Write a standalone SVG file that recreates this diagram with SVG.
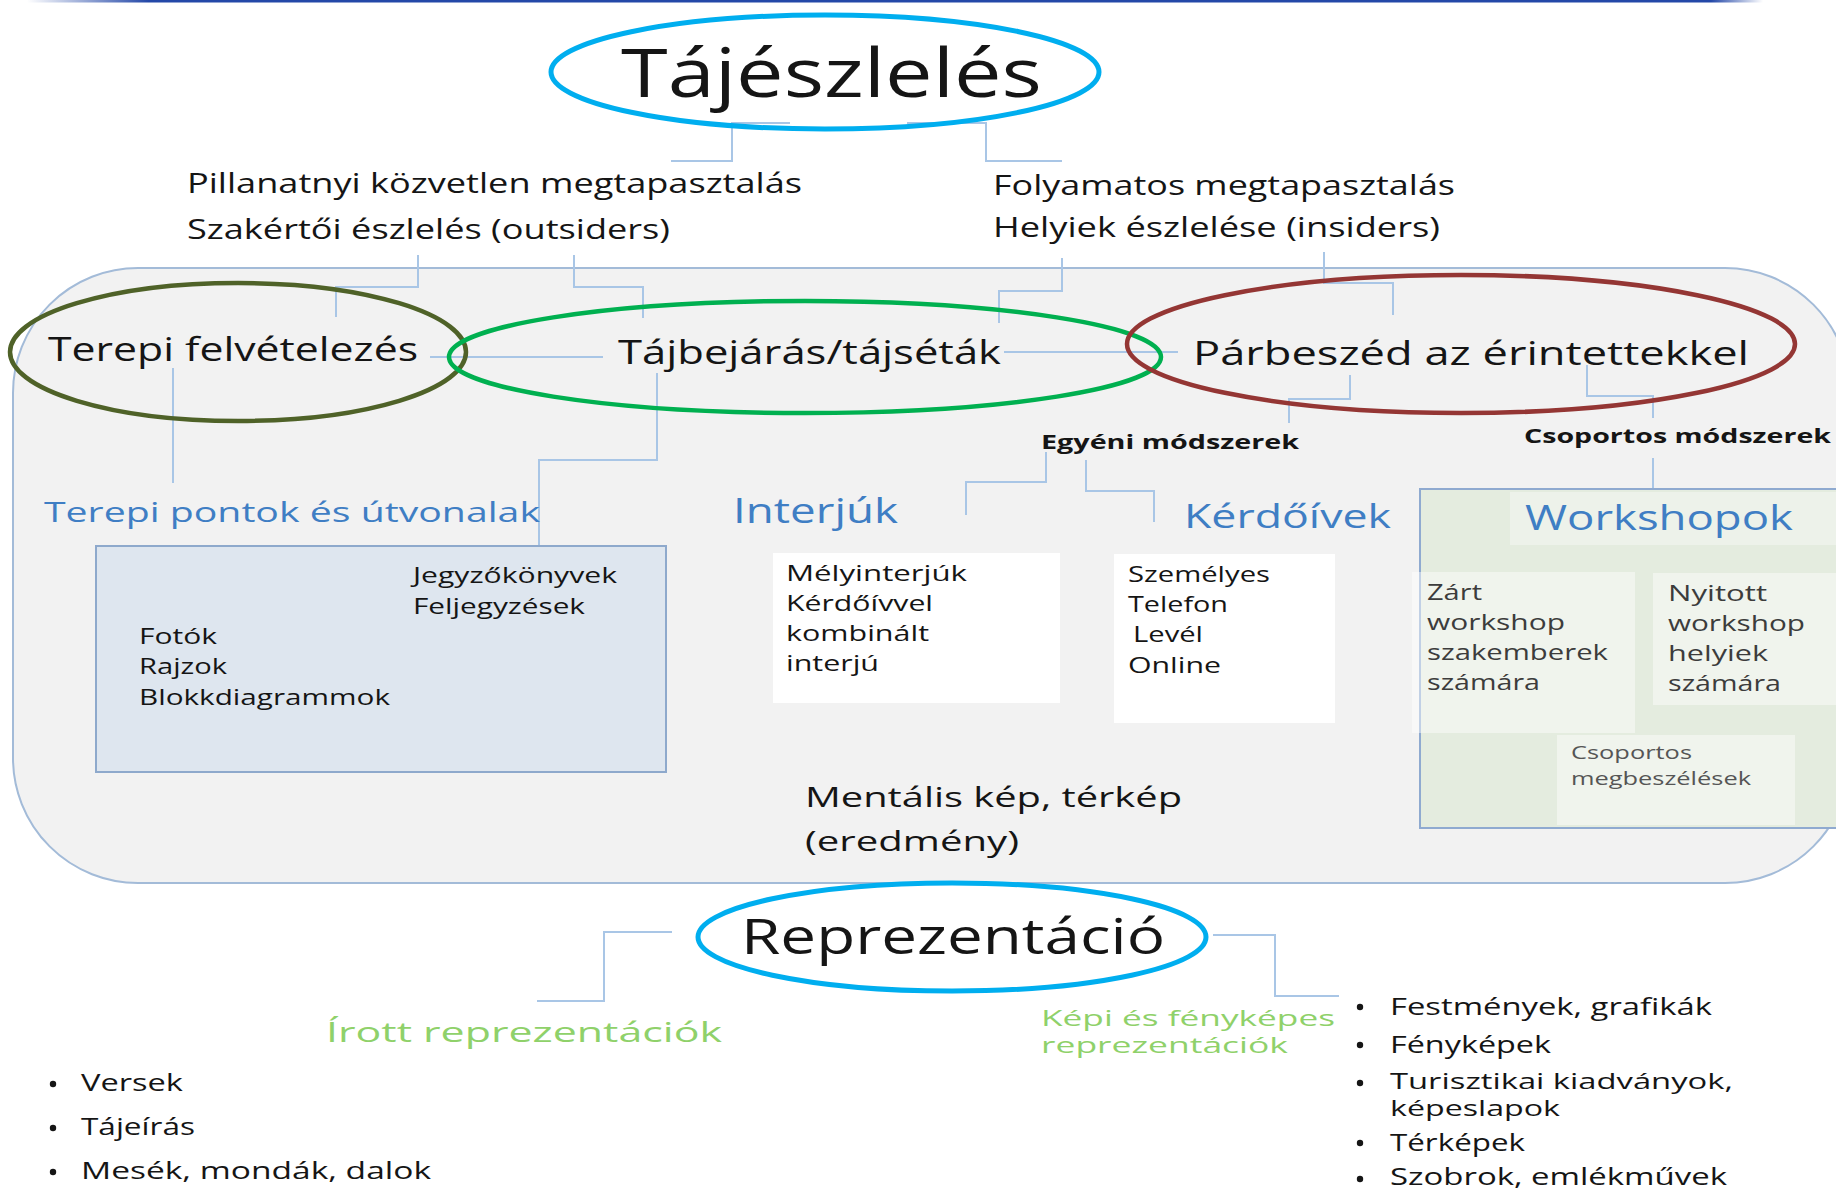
<svg xmlns="http://www.w3.org/2000/svg" width="1836" height="1191" viewBox="0 0 1836 1191">
<defs>
<linearGradient id="bar" x1="0" y1="0" x2="1" y2="0">
<stop offset="0" stop-color="#2448A8" stop-opacity="0"/>
<stop offset="0.07" stop-color="#2448A8" stop-opacity="1"/>
<stop offset="0.97" stop-color="#2448A8" stop-opacity="1"/>
<stop offset="1" stop-color="#2448A8" stop-opacity="0"/>
</linearGradient>
<style>
text{font-family:'Open Sans','Liberation Sans',sans-serif;fill:#151515}
.conn path{fill:none;stroke:#A9C6E6;stroke-width:2}
.blue{fill:#3F7EC4}
.green{fill:#8FD16A}
.gray{fill:#3c3c3c}
.lgray{fill:#555555}
.b{font-weight:bold}
.ell{fill:none}
</style>
</defs>
<rect x="0" y="0" width="1836" height="1191" fill="#ffffff"/>
<rect x="27" y="0" width="1736" height="2.5" fill="url(#bar)"/>

<g id="container">
<rect x="13" y="268" width="1837" height="615" rx="125" ry="125" fill="#F2F2F2" stroke="#A3BBD8" stroke-width="2"/>
</g>

<g class="conn" id="connectors">
<path d="M790,123 H732 V161 H671"/>
<path d="M907,123 H986 V161 H1062"/>
<path d="M418,255 V287 H336 V317"/>
<path d="M574,255 V287 H643 V318"/>
<path d="M430,357 H603"/>
<path d="M657,373 V460 H539 V545"/>
<path d="M173,368 V483"/>
<path d="M1062,258 V291 H999 V323"/>
<path d="M1324,252 V283 H1393 V315"/>
<path d="M1004,352 H1178"/>
<path d="M1350,375 V399 H1289 V423"/>
<path d="M1587,365 V396 H1653 V418"/>
<path d="M1653,458 V490"/>
<path d="M1046,452 V482 H966 V515"/>
<path d="M1086,460 V491 H1154 V522"/>
<path d="M672,932 H604 V1001 H537"/>
<path d="M1213,935 H1275 V996 H1339"/>
</g>

<g id="tajeszleles">
<ellipse class="ell" cx="825" cy="72" rx="274" ry="57" stroke="#00AEEF" stroke-width="5"/>
<text x="621" y="97" font-size="68" textLength="421" lengthAdjust="spacingAndGlyphs">Tájészlelés</text>
</g>

<g id="pillanatnyi">
<text x="187" y="193" font-size="28" textLength="615" lengthAdjust="spacingAndGlyphs">Pillanatnyi közvetlen megtapasztalás</text>
<text x="187" y="239" font-size="28" textLength="483" lengthAdjust="spacingAndGlyphs">Szakértői észlelés (outsiders)</text>
</g>
<g id="folyamatos">
<text x="993" y="195" font-size="28" textLength="462" lengthAdjust="spacingAndGlyphs">Folyamatos megtapasztalás</text>
<text x="993" y="237" font-size="28" textLength="447" lengthAdjust="spacingAndGlyphs">Helyiek észlelése (insiders)</text>
</g>

<g id="terepi">
<ellipse class="ell" cx="238" cy="352" rx="228" ry="69" stroke="#4F6228" stroke-width="4.5"/>
<text x="48" y="361" font-size="32" textLength="370" lengthAdjust="spacingAndGlyphs">Terepi felvételezés</text>
</g>
<g id="tajbejaras">
<ellipse class="ell" cx="805" cy="357" rx="356" ry="56" stroke="#00B050" stroke-width="4.5"/>
<text x="618" y="364" font-size="32" textLength="383" lengthAdjust="spacingAndGlyphs">Tájbejárás/tájséták</text>
</g>
<g id="parbeszed">
<ellipse class="ell" cx="1461" cy="344" rx="334" ry="69" stroke="#943634" stroke-width="4.5"/>
<text x="1193" y="365" font-size="32" textLength="556" lengthAdjust="spacingAndGlyphs">Párbeszéd az érintettekkel</text>
</g>

<g id="egyeni">
<text class="b" x="1041" y="449" font-size="20" textLength="258" lengthAdjust="spacingAndGlyphs">Egyéni módszerek</text>
</g>
<g id="csoportos">
<text class="b" x="1524" y="443" font-size="20" textLength="307" lengthAdjust="spacingAndGlyphs">Csoportos módszerek</text>
</g>

<g id="terepi-pontok">
<text class="blue" x="44" y="522" font-size="28" textLength="496" lengthAdjust="spacingAndGlyphs">Terepi pontok és útvonalak</text>
<rect x="96" y="546" width="570" height="226" fill="#DEE6EF" stroke="#8EA9CC" stroke-width="2"/>
<text x="413" y="583" font-size="21" textLength="204" lengthAdjust="spacingAndGlyphs">Jegyzőkönyvek</text>
<text x="413" y="614" font-size="21" textLength="172" lengthAdjust="spacingAndGlyphs">Feljegyzések</text>
<text x="139" y="644" font-size="21" textLength="78" lengthAdjust="spacingAndGlyphs">Fotók</text>
<text x="139" y="674" font-size="21" textLength="88" lengthAdjust="spacingAndGlyphs">Rajzok</text>
<text x="139" y="705" font-size="21" textLength="251" lengthAdjust="spacingAndGlyphs">Blokkdiagrammok</text>
</g>

<g id="interjuk">
<text class="blue" x="733" y="523" font-size="34" textLength="165" lengthAdjust="spacingAndGlyphs">Interjúk</text>
<rect x="773" y="553" width="287" height="150" fill="#ffffff"/>
<text x="786" y="581" font-size="21" textLength="181" lengthAdjust="spacingAndGlyphs">Mélyinterjúk</text>
<text x="786" y="611" font-size="21" textLength="147" lengthAdjust="spacingAndGlyphs">Kérdőívvel</text>
<text x="786" y="641" font-size="21" textLength="143" lengthAdjust="spacingAndGlyphs">kombinált</text>
<text x="786" y="671" font-size="21" textLength="93" lengthAdjust="spacingAndGlyphs">interjú</text>
</g>

<g id="kerdoivek">
<text class="blue" x="1184" y="528" font-size="33" textLength="207" lengthAdjust="spacingAndGlyphs">Kérdőívek</text>
<rect x="1114" y="554" width="221" height="169" fill="#ffffff"/>
<text x="1128" y="582" font-size="21" textLength="142" lengthAdjust="spacingAndGlyphs">Személyes</text>
<text x="1128" y="612" font-size="21" textLength="100" lengthAdjust="spacingAndGlyphs">Telefon</text>
<text x="1133" y="642" font-size="21" textLength="70" lengthAdjust="spacingAndGlyphs">Levél</text>
<text x="1128" y="673" font-size="21" textLength="93" lengthAdjust="spacingAndGlyphs">Online</text>
</g>

<g id="workshopok">
<rect x="1420" y="489" width="430" height="339" fill="#E4ECDF" stroke="#8FAAD0" stroke-width="2"/>
<rect x="1510" y="492" width="326" height="53" fill="#ffffff" fill-opacity="0.35"/>
<rect x="1412" y="572" width="223" height="161" fill="#ffffff" fill-opacity="0.45"/>
<rect x="1653" y="573" width="183" height="132" fill="#ffffff" fill-opacity="0.45"/>
<rect x="1557" y="735" width="238" height="90" fill="#ffffff" fill-opacity="0.45"/>
<text class="blue" x="1525" y="530" font-size="34" textLength="268" lengthAdjust="spacingAndGlyphs">Workshopok</text>
<text class="gray" x="1427" y="600" font-size="21" textLength="55" lengthAdjust="spacingAndGlyphs">Zárt</text>
<text class="gray" x="1427" y="630" font-size="21" textLength="138" lengthAdjust="spacingAndGlyphs">workshop</text>
<text class="gray" x="1427" y="660" font-size="21" textLength="181" lengthAdjust="spacingAndGlyphs">szakemberek</text>
<text class="gray" x="1427" y="690" font-size="21" textLength="113" lengthAdjust="spacingAndGlyphs">számára</text>
<text class="gray" x="1668" y="601" font-size="21" textLength="99" lengthAdjust="spacingAndGlyphs">Nyitott</text>
<text class="gray" x="1668" y="631" font-size="21" textLength="137" lengthAdjust="spacingAndGlyphs">workshop</text>
<text class="gray" x="1668" y="661" font-size="21" textLength="100" lengthAdjust="spacingAndGlyphs">helyiek</text>
<text class="gray" x="1668" y="691" font-size="21" textLength="113" lengthAdjust="spacingAndGlyphs">számára</text>
<text class="lgray" x="1571" y="759" font-size="18" textLength="121" lengthAdjust="spacingAndGlyphs">Csoportos</text>
<text class="lgray" x="1571" y="785" font-size="18" textLength="180" lengthAdjust="spacingAndGlyphs">megbeszélések</text>
</g>

<g id="mentalis">
<text x="805" y="807" font-size="28" textLength="377" lengthAdjust="spacingAndGlyphs">Mentális kép, térkép</text>
<text x="805" y="851" font-size="28" textLength="214" lengthAdjust="spacingAndGlyphs">(eredmény)</text>
</g>

<g id="reprezentacio">
<ellipse class="ell" cx="952" cy="937" rx="254" ry="54" stroke="#00AEEF" stroke-width="5"/>
<text x="741" y="954" font-size="49" textLength="424" lengthAdjust="spacingAndGlyphs">Reprezentáció</text>
</g>

<g id="irott">
<text class="green" x="326" y="1042" font-size="28" textLength="396" lengthAdjust="spacingAndGlyphs">Írott reprezentációk</text>
<circle cx="53" cy="1084" r="3.2" fill="#151515"/>
<circle cx="53" cy="1128" r="3.2" fill="#151515"/>
<circle cx="53" cy="1172" r="3.2" fill="#151515"/>
<text x="81" y="1091" font-size="23" textLength="102" lengthAdjust="spacingAndGlyphs">Versek</text>
<text x="81" y="1135" font-size="23" textLength="114" lengthAdjust="spacingAndGlyphs">Tájeírás</text>
<text x="81" y="1179" font-size="23" textLength="350" lengthAdjust="spacingAndGlyphs">Mesék, mondák, dalok</text>
</g>

<g id="kepi">
<text class="green" x="1041" y="1026" font-size="22" textLength="294" lengthAdjust="spacingAndGlyphs">Képi és fényképes</text>
<text class="green" x="1041" y="1053" font-size="22" textLength="247" lengthAdjust="spacingAndGlyphs">reprezentációk</text>
<circle cx="1360" cy="1007" r="3.2" fill="#151515"/>
<circle cx="1360" cy="1045" r="3.2" fill="#151515"/>
<circle cx="1360" cy="1083" r="3.2" fill="#151515"/>
<circle cx="1360" cy="1143" r="3.2" fill="#151515"/>
<circle cx="1360" cy="1179" r="3.2" fill="#151515"/>
<text x="1390" y="1015" font-size="24" textLength="322" lengthAdjust="spacingAndGlyphs">Festmények, grafikák</text>
<text x="1390" y="1053" font-size="24" textLength="161" lengthAdjust="spacingAndGlyphs">Fényképek</text>
<text x="1390" y="1089" font-size="21" textLength="343" lengthAdjust="spacingAndGlyphs">Turisztikai kiadványok,</text>
<text x="1390" y="1116" font-size="21" textLength="170" lengthAdjust="spacingAndGlyphs">képeslapok</text>
<text x="1390" y="1151" font-size="24" textLength="135" lengthAdjust="spacingAndGlyphs">Térképek</text>
<text x="1390" y="1185" font-size="23" textLength="337" lengthAdjust="spacingAndGlyphs">Szobrok, emlékművek</text>
</g>
</svg>
